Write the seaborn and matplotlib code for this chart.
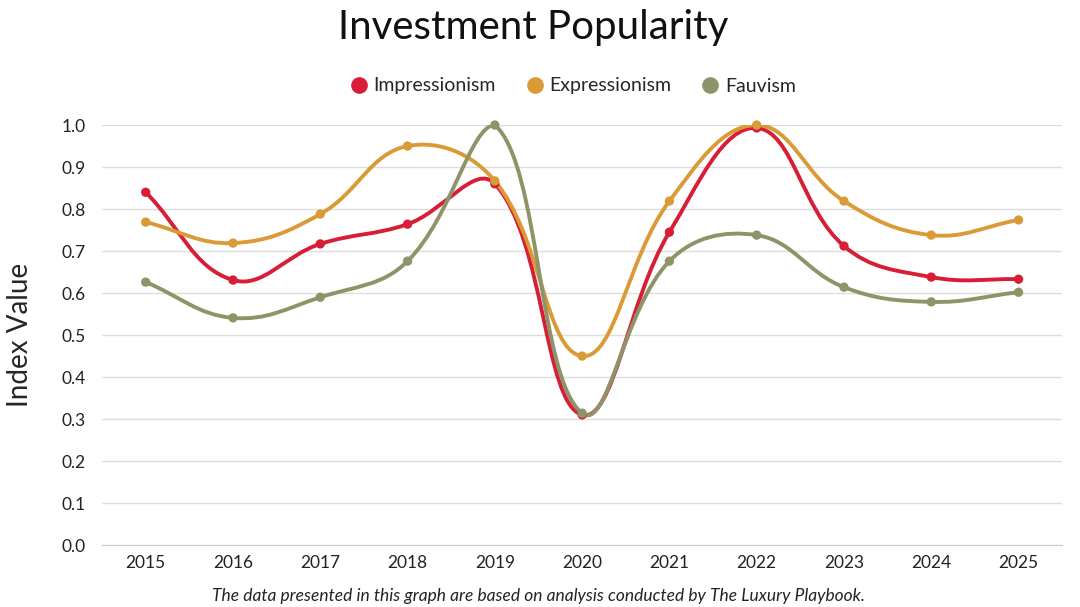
import numpy as np
import pandas as pd
import matplotlib.pyplot as plt
import seaborn as sns
from matplotlib.path import Path
from matplotlib.patches import PathPatch
from matplotlib.lines import Line2D

years = [2015, 2016, 2017, 2018, 2019, 2020, 2021, 2022, 2023, 2024, 2025]
impressionism = [0.840, 0.631, 0.717, 0.764, 0.860, 0.310, 0.745, 0.993, 0.712, 0.638, 0.633]
expressionism = [0.769, 0.719, 0.788, 0.950, 0.867, 0.450, 0.819, 1.000, 0.819, 0.738, 0.774]
fauvism = [0.626, 0.541, 0.590, 0.676, 1.000, 0.314, 0.676, 0.738, 0.614, 0.579, 0.602]

series = ['Impressionism', 'Expressionism', 'Fauvism']
colors = {'Impressionism': '#D71E36', 'Expressionism': '#DA9B37', 'Fauvism': '#8E9467'}

df = pd.DataFrame({
    'year': years * 3,
    'value': impressionism + expressionism + fauvism,
    'style': [s for s in series for _ in years],
})

sns.set_style('white')
plt.rcParams['font.family'] = ['Lato', 'DejaVu Sans']

fig = plt.figure(figsize=(10.8, 6.07), dpi=100)
ax = fig.add_axes([0.0945, 0.102, 0.889, 0.692])
ax.set_xlim(2014.5, 2025.5)
ax.set_ylim(0, 1.0)


# chart.js style bezier smoothing (tension 0.4), control points in pixel space
def smooth_path(xs, ys, tension=0.4):
    pts = ax.transData.transform(np.column_stack([xs, ys]))
    box = ax.bbox
    n = len(pts)
    cp_in, cp_out = [], []
    for i in range(n):
        cur = pts[i]
        prev = pts[i - 1] if i > 0 else cur
        nxt = pts[i + 1] if i < n - 1 else cur
        d01 = np.hypot(*(cur - prev))
        d12 = np.hypot(*(nxt - cur))
        tot = d01 + d12
        s01 = d01 / tot if tot else 0
        s12 = d12 / tot if tot else 0
        a = cur - tension * s01 * (nxt - prev)
        b = cur + tension * s12 * (nxt - prev)
        for p in (a, b):
            p[1] = min(max(p[1], box.y0), box.y1)
        cp_in.append(a)
        cp_out.append(b)
    verts = [pts[0]]
    codes = [Path.MOVETO]
    for i in range(1, n):
        verts += [cp_out[i - 1], cp_in[i], pts[i]]
        codes += [Path.CURVE4] * 3
    verts = ax.transData.inverted().transform(np.array(verts))
    return Path(verts, codes)


for name in series:
    sub = df[df['style'] == name]
    patch = PathPatch(smooth_path(sub['year'].values, sub['value'].values),
                      facecolor='none', edgecolor=colors[name], lw=2.8,
                      capstyle='round', joinstyle='round', zorder=3)
    ax.add_patch(patch)

sns.scatterplot(data=df, x='year', y='value', hue='style', palette=colors,
                s=45, edgecolor='none', legend=False, zorder=4, clip_on=False, ax=ax)

ax.set_xticks(years)
ax.set_xticklabels([str(y) for y in years], fontsize=12.5)
ax.set_yticks(np.arange(0, 1.01, 0.1))
ax.set_yticklabels([f'{v:.1f}' for v in np.arange(0, 1.01, 0.1)], fontsize=12.5)
ax.tick_params(axis='both', length=0, colors='#222222')
ax.tick_params(axis='y', pad=12)
ax.tick_params(axis='x', pad=7)
ax.yaxis.grid(True, color='#dddddd', lw=1)
ax.xaxis.grid(False)
for s in ['left', 'right', 'top']:
    ax.spines[s].set_visible(False)
ax.spines['bottom'].set_color('#c8c8c8')
ax.set_xlabel('')
ax.set_ylabel('Index Value', fontsize=20, labelpad=20)

fig.text(533 / 1080, 1 - 27 / 607, 'Investment Popularity', ha='center', va='center',
         fontsize=29, color='#111111')

handles = [Line2D([], [], marker='o', ls='none', markersize=12, color=colors[n],
                  markeredgecolor='none') for n in series]
fig.legend(handles, series, loc='center', bbox_to_anchor=(570 / 1080, 1 - 86 / 607),
           ncol=3, frameon=False, fontsize=14, handletextpad=0.0, columnspacing=1.25,
           handlelength=1.5)

fig.text(538 / 1080, 1 - 596 / 607,
         'The data presented in this graph are based on analysis conducted by The Luxury Playbook.',
         ha='center', va='center', fontsize=12.5, style='italic', color='#222222')

fig.savefig('out.png', dpi=100)
